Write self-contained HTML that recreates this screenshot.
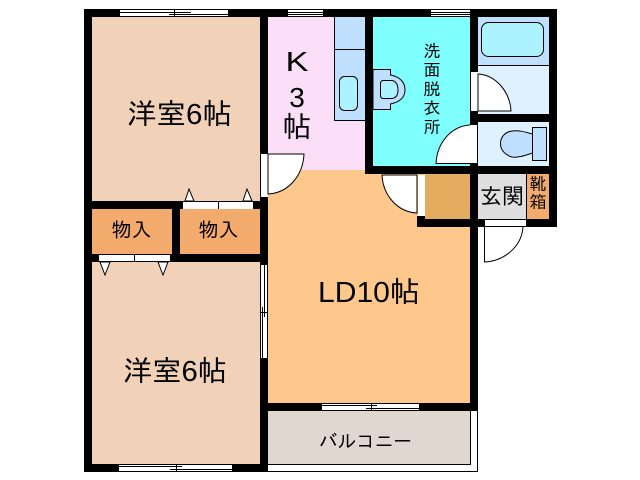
<!DOCTYPE html>
<html><head><meta charset="utf-8"><style>
html,body{margin:0;padding:0;background:#fff}
svg{display:block}
text{font-family:"Liberation Sans","IPAGothic","Noto Sans CJK JP",sans-serif;fill:#000}
.r rect{shape-rendering:crispEdges}
.d{stroke:#000;stroke-width:1;fill:#fff}
.w{fill:#fff;stroke:none}
.o{fill:none;stroke:#000;stroke-width:1}
</style></head><body>
<svg width="640" height="480" viewBox="0 0 640 480" xmlns="http://www.w3.org/2000/svg">
<g class="r">
<rect x="92" y="17" width="168" height="184" fill="#f1d2b8"/>
<rect x="92" y="262" width="168" height="202" fill="#f1d2b8"/>
<rect x="92" y="209" width="80" height="45" fill="#f2ab6d"/>
<rect x="180" y="209" width="80" height="45" fill="#f2ab6d"/>
<rect x="268" y="17" width="97" height="153" fill="#fbdff8"/>
<rect x="334" y="17" width="31" height="103" fill="#bfdfff"/>
<rect x="268" y="170" width="202" height="233" fill="#fec78b"/>
<rect x="373" y="17" width="97" height="149" fill="#80ffff"/>
<rect x="478" y="17" width="71" height="48" fill="#bfdfff"/>
<rect x="478" y="65" width="71" height="49" fill="#dff1ff"/>
<rect x="478" y="122" width="71" height="44" fill="#dff1ff"/>
<rect x="425" y="174" width="45" height="45" fill="#e5ac60"/>
<rect x="478" y="174" width="48" height="45" fill="#dfdfdf"/>
<rect x="527" y="174" width="22" height="45" fill="#f2ab6d"/>
<rect x="268" y="411" width="202" height="53" fill="#e0d8d0"/>
<!-- walls -->
<rect x="84" y="9" width="473" height="8" fill="#000"/>
<rect x="84" y="9" width="8" height="463" fill="#000"/>
<rect x="84" y="464" width="184" height="8" fill="#000"/>
<rect x="260" y="17" width="8" height="455" fill="#000"/>
<rect x="365" y="17" width="8" height="157" fill="#000"/>
<rect x="470" y="17" width="8" height="394" fill="#000"/>
<rect x="549" y="17" width="8" height="210" fill="#000"/>
<rect x="478" y="114" width="71" height="8" fill="#000"/>
<rect x="365" y="166" width="192" height="8" fill="#000"/>
<rect x="92" y="201" width="168" height="8" fill="#000"/>
<rect x="92" y="254" width="168" height="8" fill="#000"/>
<rect x="172" y="209" width="8" height="45" fill="#000"/>
<rect x="417" y="216" width="8" height="11" fill="#000"/>
<rect x="417" y="219" width="140" height="8" fill="#000"/>
<rect x="260" y="403" width="218" height="8" fill="#000"/>
<rect x="526" y="174" width="1" height="45" fill="#000"/>
<!-- openings -->
<rect x="120" y="9" width="108" height="8" fill="#fff"/>
<rect x="288" y="9" width="35" height="8" fill="#fff"/>
<rect x="431" y="9" width="39" height="8" fill="#fff"/>
<rect x="119" y="464" width="113" height="8" fill="#fff"/>
<rect x="322" y="403" width="97" height="8" fill="#fff"/>
<rect x="260" y="265" width="8" height="93" fill="#fff"/>
<rect x="471" y="72" width="7" height="39" fill="#fff"/>
<rect x="471" y="125" width="7" height="39" fill="#fff"/>
<rect x="418" y="175" width="7" height="41" fill="#fff"/>
<rect x="261" y="154" width="7" height="43" fill="#fff"/>
<rect x="484" y="220" width="42" height="7" fill="#fff"/>
<rect x="183" y="202" width="70" height="7" fill="#fff"/>
<rect x="99" y="255" width="71" height="6" fill="#fff"/>
<!-- window lines -->
<rect x="120" y="9" width="108" height="1" fill="#000"/>
<rect x="120" y="12" width="71" height="1" fill="#000"/>
<rect x="169" y="14" width="59" height="1" fill="#000"/>
<rect x="174" y="9" width="1" height="8" fill="#000"/>
<rect x="120" y="16" width="108" height="1" fill="#000"/>
<rect x="288" y="9" width="35" height="1" fill="#000"/>
<rect x="288" y="12" width="35" height="1" fill="#000"/>
<rect x="288" y="14" width="35" height="1" fill="#000"/>
<rect x="288" y="16" width="35" height="1" fill="#000"/>
<rect x="431" y="9" width="39" height="1" fill="#000"/>
<rect x="431" y="12" width="39" height="1" fill="#000"/>
<rect x="431" y="14" width="39" height="1" fill="#000"/>
<rect x="431" y="16" width="39" height="1" fill="#000"/>
<rect x="119" y="464" width="113" height="1" fill="#000"/>
<rect x="119" y="466" width="63" height="1" fill="#000"/>
<rect x="170" y="469" width="62" height="1" fill="#000"/>
<rect x="176" y="464" width="1" height="8" fill="#000"/>
<rect x="119" y="471" width="113" height="1" fill="#000"/>
<rect x="322" y="403" width="97" height="1" fill="#000"/>
<rect x="322" y="405" width="55" height="1" fill="#000"/>
<rect x="366" y="408" width="53" height="1" fill="#000"/>
<rect x="371" y="403" width="1" height="8" fill="#000"/>
<rect x="322" y="410" width="97" height="1" fill="#000"/>
<rect x="260" y="265" width="1" height="93" fill="#000"/>
<rect x="262" y="307" width="1" height="51" fill="#000"/>
<rect x="264" y="265" width="1" height="52" fill="#000"/>
<rect x="260" y="312" width="8" height="1" fill="#000"/>
<rect x="267" y="265" width="1" height="93" fill="#000"/>
<rect x="218" y="202" width="1" height="7" fill="#000"/>
<rect x="134" y="255" width="1" height="6" fill="#000"/>
<!-- balcony -->
<rect x="268" y="464" width="203" height="1" fill="#000"/>
<rect x="470" y="411" width="1" height="54" fill="#000"/>
<rect x="477" y="411" width="1" height="61" fill="#000"/>
<rect x="268" y="471" width="210" height="1" fill="#000"/>
<!-- fixtures lines -->
<rect x="334" y="17" width="1" height="103" fill="#000"/>
<rect x="334" y="49" width="31" height="1" fill="#000"/>
<rect x="334" y="120" width="31" height="1" fill="#000"/>
<rect x="478" y="65" width="71" height="1" fill="#000"/>
</g>
<!-- doors -->
<path class="d" d="M268 154H304C303 176 288 193 268 194Z"/>
<path class="d" d="M417 175H382C383 195 397 212 417 213Z"/>
<path class="d" d="M478 74C496 75 510 92 511 111H478Z"/>
<path class="w" d="M471 125C451 126 437 143 436 163H471Z"/>
<path class="o" d="M470 125C451 126 437 143 436 163.500H478M477.500 125V164"/>
<path class="w" d="M484 227V262C505 261 522 246 523 227Z"/>
<path class="o" d="M484.500 219V262C505 261 522 246 523 226.500M484 226.500H526"/>
<path class="d" d="M189 189L185 201H194Z"/>
<path class="d" d="M247 189L243 201H252Z"/>
<path class="d" d="M105 275L100 262H110Z"/>
<path class="d" d="M163 275L158 262H168Z"/>
<!-- fixtures -->
<rect x="481.500" y="22.500" width="62" height="34" rx="7" fill="#adf2ff" stroke="#000"/>
<rect x="339.500" y="76.500" width="18" height="34" rx="5" fill="#adf2ff" stroke="#000"/>
<path d="M373 69.500H390.500V75C400 77 405 82 405 90C405 97 400 102 390.500 104V109.500H373Z" fill="#bfdfff" stroke="#000"/>
<path d="M380.500 83Q381 80 385 80.500H392C396 81 398 85 398 90C398 95 396 98 392 98.500H385Q381 99 380.500 96Z" fill="#adf2ff" stroke="#000"/>
<rect x="532.500" y="127.500" width="14" height="33" fill="#bfdfff" stroke="#000"/>
<path d="M532.500 134C525 132 519 130 512 131C505 132 500.500 137 500.500 143.500C500.500 150 505 155 512 157C519 158 526 155 532.500 153Z" fill="#bfdfff" stroke="#000"/>
<!-- labels -->
<text x="127" y="124" font-size="29" textLength="105" lengthAdjust="spacingAndGlyphs">洋室6帖</text>
<text x="123" y="381" font-size="29" textLength="104" lengthAdjust="spacingAndGlyphs">洋室6帖</text>
<text x="285.500" y="71" font-size="28" textLength="23" lengthAdjust="spacingAndGlyphs">K</text>
<text x="297" y="107" font-size="28" text-anchor="middle">3</text>
<text x="297" y="137" font-size="29" text-anchor="middle">帖</text>
<text x="318" y="302" font-size="29" textLength="102" lengthAdjust="spacingAndGlyphs">LD10帖</text>
<text x="111.500" y="237" font-size="20">物入</text>
<text x="198.500" y="237" font-size="20">物入</text>
<text x="432" y="57" font-size="17" text-anchor="middle">洗</text>
<text x="432" y="76" font-size="17" text-anchor="middle">面</text>
<text x="432" y="95" font-size="17" text-anchor="middle">脱</text>
<text x="432" y="114" font-size="17" text-anchor="middle">衣</text>
<text x="432" y="133" font-size="17" text-anchor="middle">所</text>
<text x="480" y="204" font-size="22">玄関</text>
<text x="538" y="190" font-size="17" text-anchor="middle">靴</text>
<text x="538" y="208" font-size="17" text-anchor="middle">箱</text>
<text x="319" y="448" font-size="19" textLength="93" lengthAdjust="spacingAndGlyphs">バルコニー</text>
</svg>
</body></html>
